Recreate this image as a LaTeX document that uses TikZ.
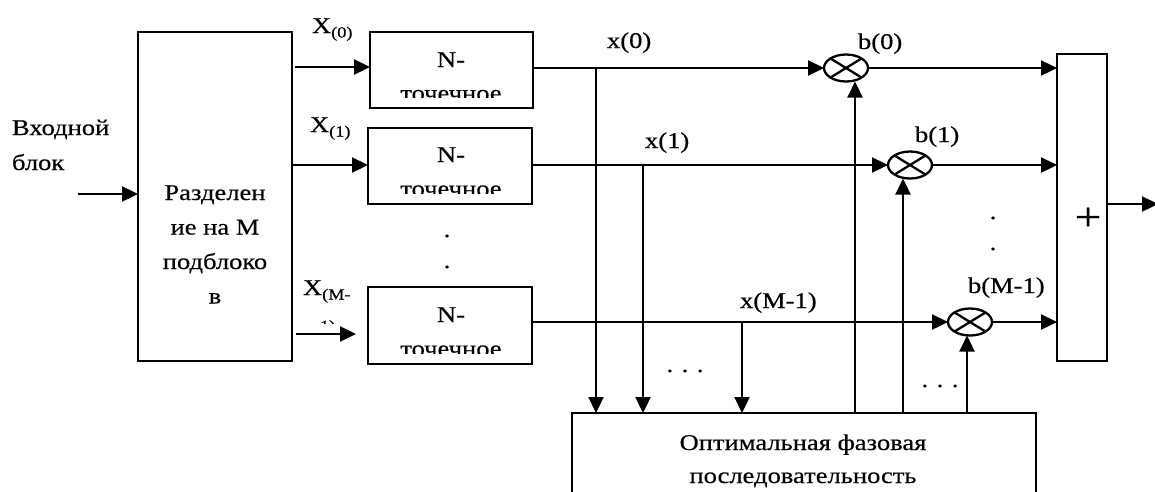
\documentclass[tikz,border=0pt]{standalone}
\usepackage{fontspec}
\setmainfont[FakeStretch=1.18,FakeBold=0.4]{Liberation Serif}
\usetikzlibrary{arrows.meta,shapes.geometric}
\newcommand\sbs[1]{{\fontsize{15.5}{15.5}\selectfont\raisebox{-4.5pt}{#1}}}
\begin{document}
\begin{tikzpicture}[x=1pt,y=-1pt,
  every node/.style={inner sep=0pt, outer sep=0pt},
  txt/.style={font=\fontsize{22.5}{34}\selectfont, anchor=base},
  txtw/.style={font=\fontsize{22.5}{34}\selectfont, anchor=base west},
  blk/.style={draw, line width=1.3pt, rectangle},
  mult/.style={draw, ellipse, line width=2.3pt, minimum width=44pt, minimum height=27pt},
  arr/.style={line width=2.3pt, -{Triangle[length=16pt,width=15pt]}},
  crs/.style={line width=2.3pt}
]
\useasboundingbox[fill=white] (0,0) rectangle (1155,491);

% blocks
\node[blk, minimum width=154pt, minimum height=329pt] (S) at (215,196.5) {};
\node[blk, minimum width=163pt, minimum height=76pt] (B1) at (451.5,70) {};
\node[blk, minimum width=164pt, minimum height=76pt] (B2) at (450,166) {};
\node[blk, minimum width=164pt, minimum height=77pt] (B3) at (450,325.5) {};
\node[blk, minimum width=50pt, minimum height=307pt] (P) at (1082,207.5) {};
\node[blk, minimum width=464pt, minimum height=92pt] (O) at (804,459) {};

% multipliers
\node[mult] (M1) at (846,68) {};
\node[mult] (M2) at (910,165) {};
\node[mult] (M3) at (970,322) {};
\foreach \m in {M1,M2,M3}{
  \draw[crs] (\m.north east) -- (\m.south west) (\m.north west) -- (\m.south east);
}

% texts
\node[txtw] (in1) at (12,135) {Входной};
\node[txtw] (in2) at (12,170) {блок};
\node[txt] (s1) at (215,200) {Разделен};
\node[txt] (s2) at (215,234.5) {ие на М};
\node[txt] (s3) at (215,269) {подблоко};
\node[txt] (s4) at (215,303.5) {в};

\node[txt] (n1) at (451,67) {N-};
\node[txt] (n2) at (451,162) {N-};
\node[txt] (n3) at (451,322) {N-};
\begin{scope}
  \clip (370,32) rectangle (533,97);
  \node[txt] (p1) at (451,100.5) {точечное};
\end{scope}
\begin{scope}
  \clip (368,128) rectangle (532,193);
  \node[txt] (p2) at (451,196) {точечное};
\end{scope}
\begin{scope}
  \clip (368,287) rectangle (532,353);
  \node[txt] (p3) at (451,356) {точечное};
\end{scope}

\node[txtw] (X0) at (312,33) {X\sbs{(0)}};
\node[txtw] (X1) at (310,132) {X\sbs{(1)}};
\node[txtw] (XM) at (303,295) {X\sbs{(M-}};
\begin{scope}
  \clip (300,300) rectangle (360,323.5);
  \node[anchor=base west, font=\fontsize{15.5}{15.5}\selectfont] (XM2) at (320,331) {1)};
\end{scope}

\node[txtw] (x0) at (607,48) {x(0)};
\node[txtw] (x1) at (645,148) {x(1)};
\node[txtw] (xM) at (740,308) {x(M-1)};
\node[txtw] (b0) at (858,49) {b(0)};
\node[txtw] (b1) at (915,142) {b(1)};
\node[txtw] (bM) at (968,293) {b(M-1)};

\node[txt] (o1) at (803,450) {Оптимальная фазовая};
\node[txt] (o2) at (803,483) {последовательность};

\node[font=\fontsize{40}{40}\selectfont] (plus) at (1088,219) {+};

\node[txt] (d1) at (447,237) {.};
\node[txt] (d2) at (447,268) {.};
\node[txt] (d3) at (993,219) {.};
\node[txt] (d4) at (993,250) {.};
\node[txt] (e1) at (685,372) {.\hspace{8.5pt}.\hspace{8.5pt}.};
\node[txt] (e2) at (940,387) {.\hspace{8.5pt}.\hspace{8.5pt}.};

% connectors
\coordinate (in) at (78,194);
\draw[arr] (in) -- (in -| S.west);
\coordinate (a1) at (295,67);
\coordinate (a2) at (293,165);
\coordinate (a3) at (296,334);
\coordinate (a3e) at (356,334);
\draw[arr] (a1) -- (a1 -| B1.west);
\draw[arr] (a2) -- (a2 -| B2.west);
\draw[arr] (a3) -- (a3e);

\draw[arr] (B1.east |- M1.west) -- (M1.west);
\draw[arr] (B2.east |- M2.west) -- (M2.west);
\draw[arr] (B3.east |- M3.west) -- (M3.west);

\coordinate (t1) at (596,68);
\coordinate (t2) at (643,165);
\coordinate (t3) at (742,322);
\draw[arr] (t1) -- (t1 |- O.north);
\draw[arr] (t2) -- (t2 |- O.north);
\draw[arr] (t3) -- (t3 |- O.north);

\coordinate (u1) at (855,0);
\coordinate (u2) at (903,0);
\coordinate (u3) at (967,0);
\draw[arr] (u1 |- O.north) -- (u1 |- M1.south);
\draw[arr] (u2 |- O.north) -- (u2 |- M2.south);
\draw[arr] (u3 |- O.north) -- (u3 |- M3.south);

\draw[arr] (M1.east) -- (M1.east -| P.west);
\draw[arr] (M2.east) -- (M2.east -| P.west);
\draw[arr] (M3.east) -- (M3.east -| P.west);

\coordinate (out) at (1158,204);
\draw[arr] (out -| P.east) -- (out);
\end{tikzpicture}
\end{document}
